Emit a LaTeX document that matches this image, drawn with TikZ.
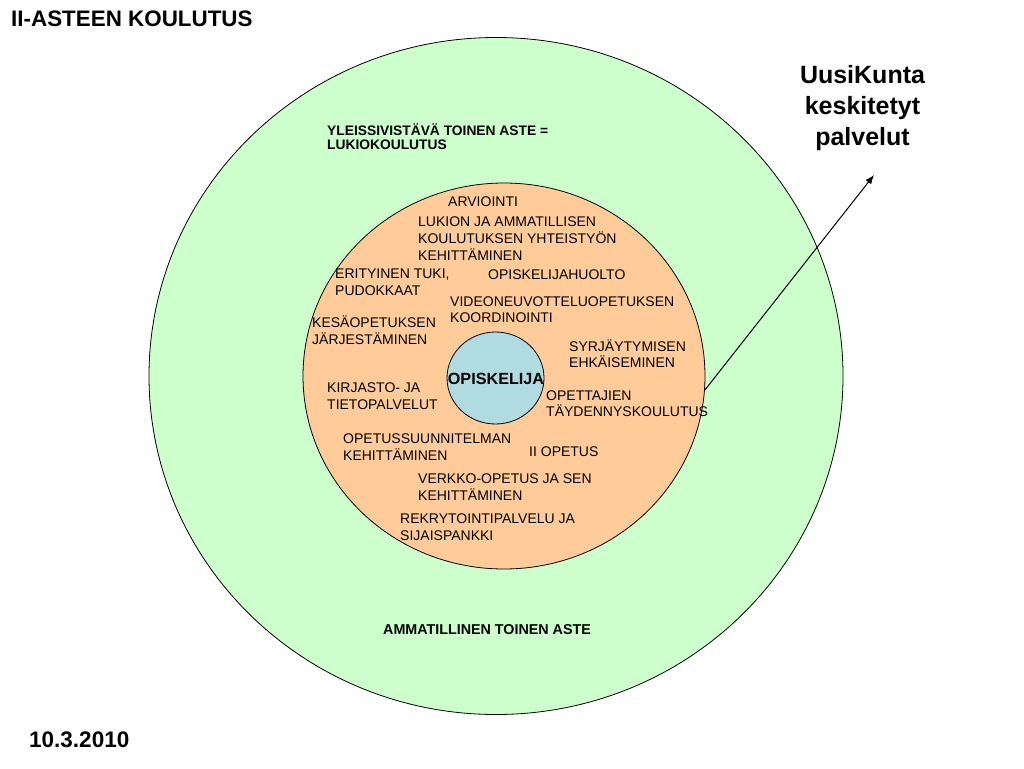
\documentclass[tikz,border=0pt]{standalone}
\usepackage{fontspec}
\setmainfont{Liberation Sans}
\usetikzlibrary{shapes.geometric,arrows.meta}

\definecolor{lukio}{RGB}{204,255,204}
\definecolor{palvelu}{RGB}{255,204,153}
\definecolor{opiskelija}{RGB}{176,219,224}

\tikzset{
	ring/.style={ellipse, draw, line width=0.8pt, inner sep=0pt},
	item/.style={anchor=base west, align=left, inner sep=0pt, font=\fontsize{14}{16.7}\selectfont},
	heading/.style={anchor=base west, align=left, inner sep=0pt, font=\bfseries\fontsize{13.8}{13.7}\selectfont},
}

\begin{document}
\begin{tikzpicture}[x=1pt,y=-1pt]
		\useasboundingbox (0,0) rectangle (1024,768);

		\draw (496,376) node [ring, fill=lukio, minimum width=694pt, minimum height=677pt] (outer) {};
		\draw (504,376) node [ring, fill=palvelu, minimum width=402pt, minimum height=386pt] (inner) {};
		\draw (495.5,378) node [ring, fill=opiskelija, minimum width=97pt, minimum height=92pt] (core) {};
		\draw (496,384) node [anchor=base, inner sep=0pt, font=\bfseries\fontsize{16.2}{16}\selectfont] (opiskelija) {OPISKELIJA};

		\draw (11,27) node [anchor=base west, inner sep=0pt, font=\bfseries\fontsize{22.4}{24}\selectfont] (title) {II-ASTEEN KOULUTUS};
		\draw (29,747) node [anchor=base west, inner sep=0pt, font=\bfseries\fontsize{22.5}{24}\selectfont] (date) {10.3.2010};
		% base = last line
		\draw (862.5,145) node [anchor=base, align=center, inner sep=0pt, font=\bfseries\fontsize{25}{31}\selectfont] (uusikunta) {UusiKunta\\keskitetyt\\palvelut};
		\coordinate (tip) at (874,175);

		\draw (327,149.5) node [heading] (lukiokoulutus) {YLEISSIVISTÄVÄ TOINEN ASTE =\\LUKIOKOULUTUS};
		\draw (383,634) node [heading, font=\bfseries\fontsize{14.3}{16}\selectfont] (ammatillinen) {AMMATILLINEN TOINEN ASTE};

		% palvelut
		\draw (448,206.7) node [item] (arviointi) {ARVIOINTI};
		\draw (418,260) node [item] (yhteistyo) {LUKION JA AMMATILLISEN\\KOULUTUKSEN YHTEISTYÖN\\KEHITTÄMINEN};
		\draw (335,295) node [item] (tuki) {ERITYINEN TUKI,\\PUDOKKAAT};
		\draw (488,279) node [item] (huolto) {OPISKELIJAHUOLTO};
		\draw (450,322.7) node [item] (video) {VIDEONEUVOTTELUOPETUKSEN\\KOORDINOINTI};
		\draw (312,344) node [item] (kesa) {KESÄOPETUKSEN\\JÄRJESTÄMINEN};
		\draw (569,367.7) node [item] (syrjaytyminen) {SYRJÄYTYMISEN\\EHKÄISEMINEN};
		\draw (327,409) node [item] (kirjasto) {KIRJASTO- JA\\TIETOPALVELUT};
		\draw (546,416.7) node [item] (taydennys) {OPETTAJIEN\\TÄYDENNYSKOULUTUS};
		\draw (343,460) node [item] (ops) {OPETUSSUUNNITELMAN\\KEHITTÄMINEN};
		\draw (529,456) node [item] (iiopetus) {II OPETUS};
		\draw (418,500) node [item] (verkko) {VERKKO-OPETUS JA SEN\\KEHITTÄMINEN};
		\draw (400,540) node [item] (rekry) {REKRYTOINTIPALVELU JA\\SIJAISPANKKI};

		\draw[-{Latex[length=9pt,width=7pt]}, line width=1pt] (inner.-4.5) -- (tip);
	\end{tikzpicture}
\end{document}
